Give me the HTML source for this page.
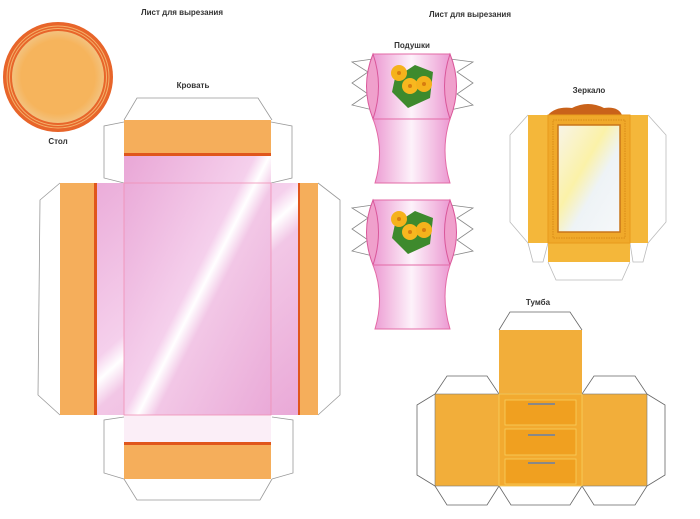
<!DOCTYPE html><html><head><meta charset="utf-8"><style>body{margin:0;background:#fff}svg{display:block}text{font-family:"Liberation Sans",sans-serif;font-weight:bold;font-size:8px;fill:#333;text-anchor:middle}</style></head><body>
<svg width="700" height="519" viewBox="0 0 700 519" xmlns="http://www.w3.org/2000/svg">
<defs>
<linearGradient id="pk" x1="0" y1="0" x2="1" y2="1"><stop offset="0" stop-color="#e9a6d6"/><stop offset="0.45" stop-color="#f5d0ec"/><stop offset="0.5" stop-color="#fff"/><stop offset="0.56" stop-color="#f2c7e6"/><stop offset="1" stop-color="#e9a6d6"/></linearGradient>
<linearGradient id="pl" x1="0" y1="0" x2="1" y2="0"><stop offset="0" stop-color="#ec9ad2"/><stop offset="0.5" stop-color="#fdf2fa"/><stop offset="1" stop-color="#ec9ad2"/></linearGradient>
<radialGradient id="tb"><stop offset="0.8" stop-color="#f6b45c"/><stop offset="1" stop-color="#f3c27e"/></radialGradient>
<linearGradient id="gl" x1="0" y1="0" x2="1" y2="1"><stop offset="0" stop-color="#f8f4e8"/><stop offset="0.4" stop-color="#fbf2a8"/><stop offset="0.6" stop-color="#eef3f6"/><stop offset="1" stop-color="#f6f8fa"/></linearGradient>
<g id="pil">
<path d="M373,59 L352,62 L368,72 L352,83 L368,94 L352,105 L373,110 M450,59 L473,62 L457,72 L473,83 L457,94 L473,105 L450,110" fill="none" stroke="#888" stroke-width="0.8"/>
<rect x="373" y="54" width="77" height="65" fill="url(#pl)" stroke="#e36aa6"/>
<path d="M373,54 Q360,86 373,119 Q384,86 373,54Z M450,54 Q463,86 450,119 Q439,86 450,54Z" fill="#f0a0cc" stroke="#d9579a"/>
<path d="M373,119 L450,119 Q440,150 450,183 L375,183 Q385,150 373,119Z" fill="url(#pl)" stroke="#e36aa6"/>
<path d="M395,78 L415,65 L433,72 L430,98 L408,108 L392,92Z" fill="#3e8a2d"/>
<circle cx="399" cy="73" r="8" fill="#f5b21c"/><circle cx="410" cy="86" r="8" fill="#f8b71f"/><circle cx="424" cy="84" r="8" fill="#f5b21c"/>
<circle cx="399" cy="73" r="2" fill="#d77d10"/><circle cx="410" cy="86" r="2" fill="#d77d10"/><circle cx="424" cy="84" r="2" fill="#d77d10"/>
</g>
</defs>
<text x="182" y="15">Лист для вырезания</text>
<text x="470" y="17">Лист для вырезания</text>
<circle cx="58" cy="77" r="55" fill="#e8652a"/>
<circle cx="58" cy="77" r="51" fill="none" stroke="#f3b26a" stroke-width="1"/>
<circle cx="58" cy="77" r="48.5" fill="none" stroke="#f3b26a" stroke-width="1"/>
<circle cx="58" cy="77" r="46" fill="url(#tb)"/>
<text x="58" y="144">Стол</text>
<text x="193" y="88">Кровать</text>
<g fill="#fff" stroke="#999" stroke-width="0.8">
<path d="M124,120 L137,98 L258,98 L272,120"/>
<path d="M124,122 L104,126 L104,178 L124,183 M271,122 L292,126 L292,178 L271,183"/>
<path d="M60,183 L40,200 L38,395 L60,415 M318,183 L340,200 L340,395 L318,415"/>
<path d="M124,417 L104,420 L104,473 L124,479 M272,417 L293,420 L293,473 L272,479"/>
<path d="M124,479 L137,500 L260,500 L272,479"/>
</g>
<rect x="60" y="183" width="258" height="232" fill="url(#pk)"/>
<rect x="124" y="153" width="147" height="289" fill="url(#pk)"/>
<rect x="124" y="415" width="147" height="27" fill="#fbeef7"/>
<rect x="60" y="183" width="34" height="232" fill="#f5ae5b"/><rect x="94" y="183" width="3" height="232" fill="#e0561c"/>
<rect x="300" y="183" width="18" height="232" fill="#f5ae5b"/><rect x="298" y="183" width="2" height="232" fill="#e0561c"/>
<rect x="124" y="120" width="147" height="33" fill="#f5ae5b"/><rect x="124" y="153" width="147" height="3" fill="#e0561c"/>
<rect x="124" y="442" width="147" height="3" fill="#e0561c"/><rect x="124" y="445" width="147" height="34" fill="#f5ae5b"/>
<rect x="124" y="183" width="147" height="232" fill="none" stroke="#f08fb4" stroke-width="0.8"/>
<text x="412" y="48">Подушки</text>
<use href="#pil"/>
<use href="#pil" transform="translate(0,146)"/>
<text x="589" y="93">Зеркало</text>
<g fill="#fff" stroke="#bbb" stroke-width="0.8">
<path d="M528,115 L510,135 L510,222 L528,243 M648,115 L666,135 L666,222 L648,243"/>
<path d="M528,243 L533,262 L543,262 L548,243 M630,243 L633,262 L643,262 L648,243"/>
<path d="M548,262 L556,280 L622,280 L630,262"/>
</g>
<path d="M548,115 Q556,106 572,108 Q588,100 604,108 Q618,106 622,115Z" fill="#c9621a"/>
<rect x="528" y="115" width="120" height="128" fill="#f4b73a"/>
<rect x="548" y="243" width="82" height="19" fill="#f4b73a"/>
<rect x="548" y="115" width="82" height="128" fill="#f0a92a" stroke="#e89a1c"/>
<rect x="553" y="120" width="72" height="118" fill="none" stroke="#d98a17" stroke-width="1" stroke-dasharray="1.5 1"/>
<rect x="558" y="125" width="62" height="107" fill="url(#gl)" stroke="#c8761a" stroke-width="1.5"/>
<text x="538" y="305">Тумба</text>
<g fill="#fff" stroke="#666" stroke-width="0.8">
<path d="M499,330 L510,312 L570,312 L582,330"/>
<path d="M435,394 L447,376 L487,376 L499,394 M582,394 L594,376 L635,376 L647,394"/>
<path d="M435,394 L417,405 L417,475 L435,486 M647,394 L665,405 L665,475 L647,486"/>
<path d="M435,486 L447,505 L487,505 L499,486 M499,486 L511,505 L570,505 L582,486 M582,486 L594,505 L635,505 L647,486"/>
</g>
<rect x="499" y="330" width="83" height="64" fill="#f2ae3a"/>
<rect x="435" y="394" width="212" height="92" fill="#f2ae3a" stroke="#777" stroke-width="0.6"/>
<rect x="499" y="394" width="83" height="92" fill="#f2aa30" stroke="#f8d060" stroke-width="0.8"/>
<g fill="#f0a020" stroke="#f8d060" stroke-width="0.8"><rect x="505" y="400" width="71" height="25"/><rect x="505" y="429" width="71" height="26"/><rect x="505" y="459" width="71" height="25"/></g>
<g stroke="#888" stroke-width="2"><line x1="528" y1="404" x2="555" y2="404"/><line x1="528" y1="435" x2="555" y2="435"/><line x1="528" y1="463" x2="555" y2="463"/></g>
</svg></body></html>
